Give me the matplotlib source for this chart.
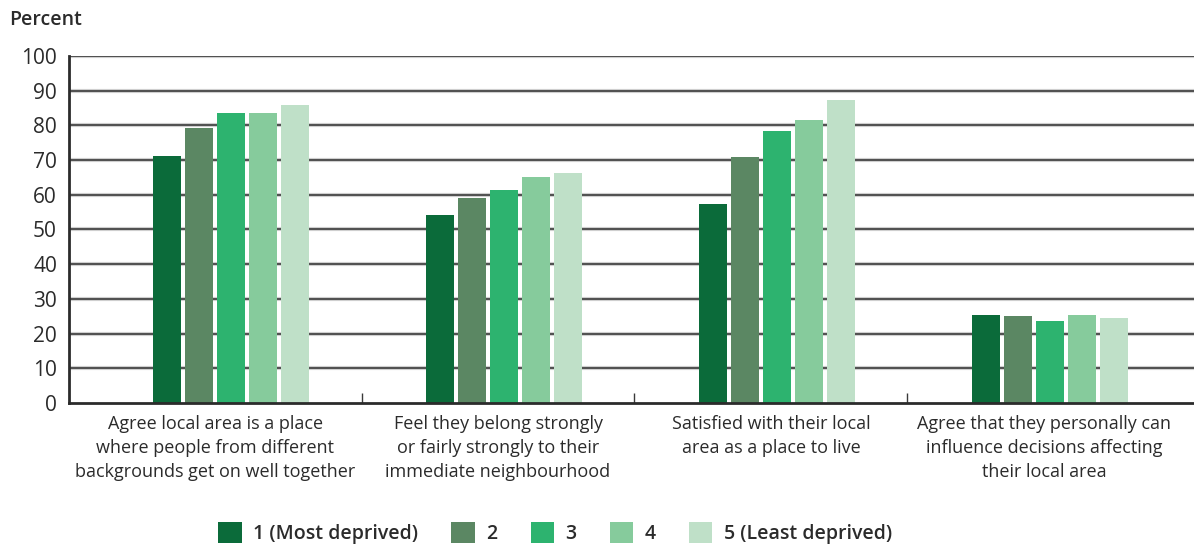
import matplotlib.pyplot as plt
import matplotlib.transforms as mtransforms
import numpy as np

plt.rcParams['font.family'] = ['Open Sans', 'DejaVu Sans']

# data
categories = [
    "Agree local area is a place\nwhere people from different\nbackgrounds get on well together",
    "Feel they belong strongly\nor fairly strongly to their\nimmediate neighbourhood",
    "Satisfied with their local\narea as a place to live",
    "Agree that they personally can\ninfluence decisions affecting\ntheir local area",
]
series_names = ["1 (Most deprived)", "2", "3", "4", "5 (Least deprived)"]
q1 = [71.2, 54.2, 57.3, 25.4]
q2 = [79.2, 59.1, 70.9, 25.1]
q3 = [83.6, 61.4, 78.4, 23.6]
q4 = [83.6, 65.1, 81.6, 25.4]
q5 = [85.9, 66.3, 87.3, 24.5]
colors = ["#0b6b3a", "#5b8763", "#2db36f", "#86cb9c", "#bfe0c8"]

text_col = "#2b2b2b"

fig = plt.figure(figsize=(11.94, 5.45), dpi=100)
ax = fig.add_axes([0.0582, 0.2606, 0.9418, 0.6366])

x = np.arange(len(categories))
width = 0.1026
step = 0.117
shift = 0.022
for i, (vals, name, c) in enumerate(zip([q1, q2, q3, q4, q5], series_names, colors)):
    ax.bar(x + shift + (i - 2) * step, vals, width=width, color=c, label=name, zorder=3)

# gridlines: dark line with a light halo
for y in range(10, 101, 10):
    ax.axhline(y, color="#cfcfcf", lw=3.0, zorder=1)
    ax.axhline(y, color="#3a3a3a", lw=1.2, zorder=2)

ax.set_xlim(-0.57, 3.55)
ax.set_ylim(0, 100)
ax.set_yticks(range(0, 101, 10))
ax.tick_params(axis="y", length=0, pad=9, labelsize=15, labelcolor=text_col)

# divider ticks between groups, labels at group centres
ax.set_xticks([0.5, 1.5, 2.5])
ax.set_xticklabels([])
ax.tick_params(axis="x", which="major", direction="in", length=7, width=1, color="#3a3a3a")
ax.set_xticks(x, minor=True)
ax.set_xticklabels(categories, minor=True)
ax.tick_params(axis="x", which="minor", length=0, pad=9, labelsize=13, labelcolor=text_col)
for lab in ax.get_xticklabels(minor=True):
    lab.set_linespacing(1.4)
# first label sits a little left of its group in the original
first = ax.get_xticklabels(minor=True)[0]
first.set_transform(first.get_transform() +
                    mtransforms.ScaledTranslation(-10 / 100, 0, fig.dpi_scale_trans))

for s in ["top", "right"]:
    ax.spines[s].set_visible(False)
for s in ["left", "bottom"]:
    ax.spines[s].set_linewidth(2)
    ax.spines[s].set_color("#2b2b2b")
    ax.spines[s].set_zorder(4)

fig.text(0.008, 1 - 20 / 545, "Percent", fontsize=14, fontweight="semibold",
         color=text_col, va="center", ha="left")

leg = fig.legend(loc="center", bbox_to_anchor=(0.465, 1 - 533 / 545), ncol=5,
                 frameon=False, fontsize=14, handlelength=1.2, handleheight=1.3,
                 handletextpad=0.6, columnspacing=1.7)
for t in leg.get_texts():
    t.set_color(text_col)
    t.set_fontweight("semibold")

fig.savefig("out.png", dpi=100)
